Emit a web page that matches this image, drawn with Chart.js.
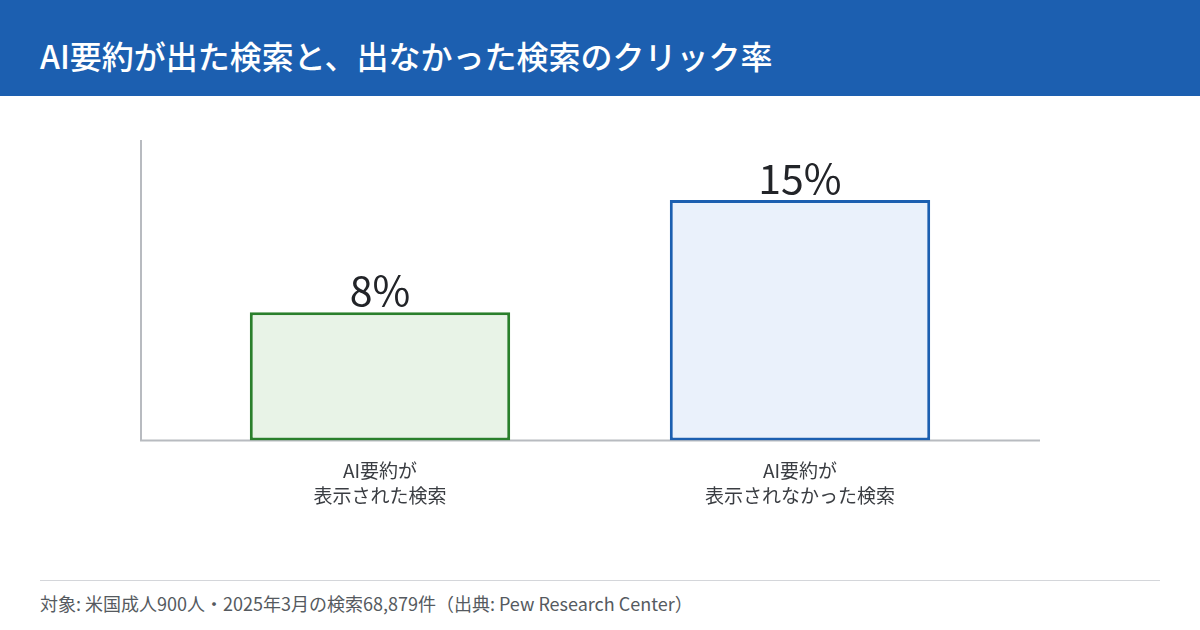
<!DOCTYPE html>
<html><head><meta charset="utf-8">
<script src="https://cdn.jsdelivr.net/npm/chart.js@4/dist/chart.umd.min.js"></script>
<style>
html,body{margin:0;padding:0;background:#fff;width:1200px;height:630px;overflow:hidden;font-family:"Noto Sans CJK JP","Noto Sans",sans-serif;}
#hdr{position:absolute;left:0;top:0;width:1200px;height:96px;background:#1c5fb0;}
#hdr h1{margin:0;position:absolute;left:40px;top:33px;font-size:32px;line-height:44px;color:#fff;font-weight:500;letter-spacing:0;}
#wrap{position:absolute;left:0;top:96px;width:1200px;height:440px;}
#ftline{position:absolute;left:40px;top:580px;width:1120px;height:1px;background:#d4d6da;}
#ft{position:absolute;left:40px;top:590px;font-size:18px;line-height:26px;color:#555a60;}
</style></head>
<body>
<div id="hdr"><h1>AI要約が出た検索と、出なかった検索のクリック率</h1></div>
<div id="wrap"><canvas id="c" width="1200" height="440"></canvas></div>
<div id="ftline"></div>
<div id="ft">対象: 米国成人900人・2025年3月の検索68,879件（出典: Pew Research Center）</div>
<script>
const categories = [["AI要約が","表示された検索"],["AI要約が","表示されなかった検索"]];
const clickRates = [8, 15];
const valueLabels = ["8%","15%"];
const barFills = ["#e8f3e7","#eaf1fb"];
const barBorders = ["#2a7f2c","#1c5fb0"];

const axisExtend = {
  id:'axisExtend',
  beforeDatasetsDraw(chart){
    const {ctx, chartArea:a} = chart;
    ctx.save();
    ctx.strokeStyle = '#b8bbc0';
    ctx.lineWidth = 2;
    ctx.beginPath();
    ctx.moveTo(a.left-29, a.top);
    ctx.lineTo(a.left-29, a.bottom);
    ctx.lineTo(a.right+30, a.bottom);
    ctx.stroke();
    ctx.restore();
  },
  afterDatasetsDraw(chart){
    const {ctx} = chart;
    const meta = chart.getDatasetMeta(0);
    ctx.save();
    ctx.fillStyle = '#222428';
    ctx.font = '41px "Noto Sans CJK JP","Noto Sans",sans-serif';
    ctx.textAlign = 'center';
    ctx.textBaseline = 'alphabetic';
    meta.data.forEach((bar,i)=>{
      ctx.fillText(valueLabels[i], bar.x, bar.y - 6);
    });
    ctx.restore();
  }
};

new Chart(document.getElementById('c'),{
  type:'bar',
  data:{
    labels:categories,
    datasets:[{
      data:clickRates,
      backgroundColor:barFills,
      borderColor:barBorders,
      borderWidth:3,
      borderSkipped:false,
      barPercentage:0.62,
      categoryPercentage:1.0
    }]
  },
  options:{
    responsive:false,
    animation:false,
    devicePixelRatio:1,
    layout:{padding:{left:170,right:190,top:44,bottom:18}},
    plugins:{legend:{display:false},tooltip:{enabled:false}},
    scales:{
      y:{min:0,max:18.75,display:false},
      x:{
        grid:{display:false},
        border:{display:false},
        ticks:{color:'#3a3d42',font:{family:'"Noto Sans CJK JP","Noto Sans",sans-serif',size:19,lineHeight:1.3},padding:10}
      }
    }
  },
  plugins:[axisExtend]
});
</script>
</body></html>
